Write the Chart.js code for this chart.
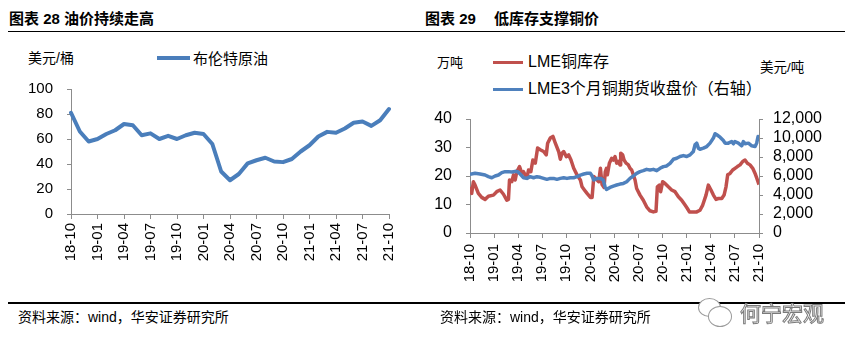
<!DOCTYPE html>
<html><head><meta charset="utf-8">
<script src="https://cdn.jsdelivr.net/npm/chart.js@4.4.1/dist/chart.umd.min.js"></script>
<style>
html,body{margin:0;padding:0;background:#fff;width:849px;height:351px;overflow:hidden;position:relative;font-family:"Liberation Sans","Noto Sans CJK SC",sans-serif;}
.abs{position:absolute;white-space:nowrap;line-height:1;color:#000;}
.title{font-size:15px;font-weight:700;}
.hr{position:absolute;background:#000;height:1.5px;}
.sw{position:absolute;}
canvas{position:absolute;}
.wm{color:#fff;-webkit-text-stroke:1px #7a7a7a;font-family:"Noto Sans CJK SC",sans-serif;font-size:21px;}
.bub{position:absolute;border:1.2px solid #9a9a9a;border-radius:50%;background:#fff;}
</style></head>
<body>
<div class="abs title" style="left:9px;top:11px;">图表 28 油价持续走高</div>
<div class="abs title" style="left:425px;top:11px;">图表 29</div>
<div class="abs title" style="left:494px;top:11px;">低库存支撑铜价</div>
<div class="hr" style="left:8px;top:30.5px;width:837px;"></div>

<div class="abs" style="left:28px;top:51px;font-size:14px;">美元/桶</div>
<div class="sw" style="left:157px;top:56px;width:33px;height:4px;background:#4A7EBB;"></div>
<div class="abs" style="left:193px;top:50.5px;font-size:15px;">布伦特原油</div>

<div class="abs" style="left:437px;top:55.5px;font-size:13px;">万吨</div>
<div class="sw" style="left:493px;top:61px;width:30px;height:3px;background:#C0504D;"></div>
<div class="abs" style="left:528px;top:54px;font-size:16px;">LME铜库存</div>
<div class="sw" style="left:493px;top:88px;width:30px;height:3px;background:#4F81BD;"></div>
<div class="abs" style="left:528px;top:81px;font-size:16px;">LME3个月铜期货收盘价（右轴）</div>
<div class="abs" style="left:760px;top:61px;font-size:13.5px;">美元/吨</div>

<canvas id="c1" width="420" height="300" style="left:0;top:0;width:420px;height:300px;"></canvas>
<canvas id="c2" width="429" height="300" style="left:420px;top:0;width:429px;height:300px;"></canvas>

<div class="hr" style="left:8px;top:302px;width:837px;"></div>
<div class="abs" style="left:18px;top:310px;font-size:14px;">资料来源：wind，华安证券研究所</div>
<div class="abs" style="left:440px;top:310px;font-size:14px;">资料来源：wind，华安证券研究所</div>
<div class="bub" style="left:698px;top:298px;width:21px;height:17px;"></div>
<div class="bub" style="left:708px;top:306px;width:22px;height:19px;"></div>
<div class="abs wm" style="left:740px;top:302px;">何宁宏观</div>

<script>
// ---- Chart 28: Brent crude oil (USD/bbl), monthly ----
const oilMonths = ['18-10','18-11','18-12','19-01','19-02','19-03','19-04','19-05','19-06','19-07','19-08','19-09','19-10','19-11','19-12','20-01','20-02','20-03','20-04','20-05','20-06','20-07','20-08','20-09','20-10','20-11','20-12','21-01','21-02','21-03','21-04','21-05','21-06','21-07','21-08','21-09','21-10'];
const brentPrices = [81,66,58,60,64,67,72,71,63,64.5,60,62.5,60,63,65,64,56,34,27,32,40.5,43,45,42,41.5,44,50,55,62,65.7,65,68.4,73,74,70.5,75,84];
const oilYRange = [0,100];
const oilYStep = 20;

// ---- Chart 29: LME copper stock (10k t) and LME 3M copper price (USD/t) ----
const quarterLabels = ['18-10','19-01','19-04','19-07','19-10','20-01','20-04','20-07','20-10','21-01','21-04','21-07','21-10'];
const stockMonth = [0,0.21,0.42,0.63,1.04,1.46,1.88,2.29,2.92,3.33,3.75,4.17,4.58,4.79,4.92,5.21,5.42,5.63,5.83,6.17,6.46,6.67,7.08,7.29,7.58,7.83,8.13,8.42,8.75,9.17,9.5,9.67,10.0,10.33,10.63,11.04,11.25,11.46,11.67,12.0,12.29,12.58,12.92,13.33,13.75,13.96,14.25,14.58,15.0,15.21,15.42,15.83,16.04,16.25,16.45,16.7,16.85,17.0,17.11,17.36,17.65,17.86,18.07,18.27,18.48,18.69,18.77,19.02,19.19,19.44,19.73,19.93,20.14,20.35,20.56,20.76,21.18,21.59,22.0,22.42,22.84,23.17,23.34,23.59,23.75,24.0,24.29,24.71,25.12,25.54,25.96,26.37,26.79,27.08,27.33,27.82,28.24,28.65,28.99,29.4,29.69,30.02,30.32,30.65,30.94,31.36,31.65,31.89,32.1,32.39,32.72,33.01,33.31,33.64,33.97,34.26,34.55,34.88,35.22,35.51,35.8,36.0];
const stockVals = [16.2,13.9,18.0,16.8,13.9,12.5,11.8,12.9,13.3,14.5,15.1,13.6,11.5,11.8,18.6,18.0,20.4,18.6,21.5,23.3,20.9,21.5,19.2,22.1,21.5,25.6,24.5,29.8,29.2,28.6,27.4,31.5,33.3,33.9,31.5,28.6,25.9,28.0,28.6,26.8,27.4,25.6,22.7,20.4,18.6,16.2,15.1,13.9,12.5,12.5,19.8,18.6,18.0,22.7,17.0,16.0,21.5,22.7,20.4,24.5,26.2,25.6,26.8,24.5,25.1,23.9,28.0,27.4,25.6,24.5,23.9,22.7,22.1,20.4,18.6,15.6,13.3,11.5,9.2,7.8,7.4,7.6,16.2,16.8,14.5,18.0,17.4,16.2,15.1,14.5,12.7,11.5,9.8,8.6,7.4,7.4,7.4,8.0,9.8,13.3,16.8,15.1,13.3,11.8,12.1,12.1,13.3,16.2,20.4,20.9,22.1,22.7,23.3,23.9,25.1,25.6,24.5,23.9,22.7,20.9,18.6,17.0];
const priceMonth = [0,0.63,1.25,1.88,2.29,2.71,3.13,3.54,3.96,4.38,4.79,5.21,5.63,5.92,6.25,6.67,7.08,7.5,7.92,8.33,8.75,9.17,9.58,10.0,10.42,10.83,11.25,11.67,12.08,12.5,12.92,13.33,13.75,14.17,14.58,15.0,15.21,15.42,15.83,16.25,16.6,16.82,17.0,17.44,17.86,18.27,18.69,19.1,19.52,19.93,20.35,20.76,21.18,21.59,22.0,22.42,22.84,23.26,23.67,24.09,24.5,24.92,25.33,25.75,26.16,26.58,27.0,27.41,27.82,28.03,28.24,28.45,28.65,29.07,29.49,29.9,30.32,30.53,30.74,31.15,31.56,31.77,32.18,32.6,32.81,33.0,33.43,33.85,34.05,34.26,34.68,35.1,35.51,35.71,35.88,36.0];
const priceVals = [6180,6280,6210,6100,5930,5820,6000,6100,6350,6460,6460,6420,6490,6460,6210,5820,5750,5930,5820,5930,5860,5750,5650,5750,5750,5650,5750,5820,5750,5820,5820,5930,6100,6210,6280,6280,6000,5580,5750,5750,5580,4870,4590,4800,4940,5050,5150,5220,5400,5750,6000,6280,6460,6560,6700,6630,6700,6560,6810,6990,7060,7340,7760,7870,8050,8150,8050,8220,8580,9280,9460,8930,8820,8930,9100,9460,9990,10450,10340,10090,9740,9460,9460,9630,9390,9630,9460,9180,9630,9390,9460,9180,9100,9460,10160,10090];
const stockYRange = [0,40];
const priceYRange = [0,12000];

const AX = '#8c8c8c';
const NUM_FONT = 'Liberation Sans';
const clear = 'rgba(0,0,0,0)';

new Chart(document.getElementById('c1'), {
  type: 'line',
  data: {
    labels: oilMonths,
    datasets: [{
      data: brentPrices, borderColor: '#4A7EBB', borderWidth: 4,
      pointRadius: 0, tension: 0, fill: false,
      borderJoinStyle: 'round', borderCapStyle: 'round'
    }]
  },
  options: {
    responsive: false, animation: false, devicePixelRatio: 1,
    layout: { padding: { left: 0, right: 31, top: 89, bottom: 0 } },
    plugins: { legend: { display: false }, tooltip: { enabled: false } },
    scales: {
      x: {
        type: 'category', offset: false,
        grid: { display: true, drawOnChartArea: false, drawTicks: true, tickLength: 5, offset: false,
                tickColor: (c) => (c.index % 3 === 0 ? AX : clear) },
        border: { display: true, color: AX, width: 1 },
        ticks: { autoSkip: false, minRotation: 90, maxRotation: 90, padding: 4, color: '#000',
                 font: { family: NUM_FONT, size: 15 },
                 callback: (v, i) => (i % 3 === 0 ? oilMonths[i] : '') },
        afterFit: (s) => { s.height = 86; }
      },
      y: {
        min: oilYRange[0], max: oilYRange[1],
        grid: { display: true, drawOnChartArea: false, drawTicks: true, tickLength: 4, tickColor: AX },
        border: { display: true, color: AX, width: 1 },
        ticks: { stepSize: oilYStep, autoSkip: false, padding: 14, color: '#000', font: { family: NUM_FONT, size: 15 } },
        afterFit: (s) => { s.width = 71; }
      }
    }
  }
});

new Chart(document.getElementById('c2'), {
  type: 'line',
  data: {
    datasets: [
      {
        label: 'LME3个月铜期货收盘价（右轴）',
        data: priceMonth.map((m, i) => ({ x: m, y: priceVals[i] })),
        yAxisID: 'y1', borderColor: '#4F81BD', borderWidth: 3.5, pointRadius: 0, tension: 0,
        borderJoinStyle: 'round', order: 0
      },
      {
        label: 'LME铜库存',
        data: stockMonth.map((m, i) => ({ x: m, y: stockVals[i] })),
        yAxisID: 'y', borderColor: '#C0504D', borderWidth: 3.5, pointRadius: 0, tension: 0,
        borderJoinStyle: 'round', order: 1
      }
    ]
  },
  options: {
    responsive: false, animation: false, devicePixelRatio: 1,
    layout: { padding: { left: 0, right: 0, top: 119, bottom: 0 } },
    plugins: { legend: { display: false }, tooltip: { enabled: false } },
    scales: {
      x: {
        type: 'linear', min: 0, max: 36,
        grid: { display: true, drawOnChartArea: false, drawTicks: true, tickLength: 5, tickColor: AX },
        border: { display: true, color: AX, width: 1 },
        ticks: { stepSize: 3, autoSkip: false, minRotation: 90, maxRotation: 90, padding: 6, color: '#000',
                 font: { family: NUM_FONT, size: 15 },
                 callback: (v) => quarterLabels[Math.round(v / 3)] },
        afterFit: (s) => { s.height = 67; }
      },
      y: {
        position: 'left', min: stockYRange[0], max: stockYRange[1],
        grid: { display: true, drawOnChartArea: false, drawTicks: true, tickLength: 4, tickColor: AX },
        border: { display: true, color: AX, width: 1 },
        ticks: { stepSize: 10, autoSkip: false, padding: 14, color: '#000', font: { family: NUM_FONT, size: 16 } },
        afterFit: (s) => { s.width = 50; }
      },
      y1: {
        position: 'right', min: priceYRange[0], max: priceYRange[1],
        grid: { display: true, drawOnChartArea: false, drawTicks: true, tickLength: 4, tickColor: AX },
        border: { display: true, color: AX, width: 1 },
        ticks: { stepSize: 2000, autoSkip: false, padding: 10, color: '#000', font: { family: NUM_FONT, size: 16 },
                 callback: (v) => v.toLocaleString('en-US') },
        afterFit: (s) => { s.width = 90; }
      }
    }
  }
});
</script>
</body></html>
